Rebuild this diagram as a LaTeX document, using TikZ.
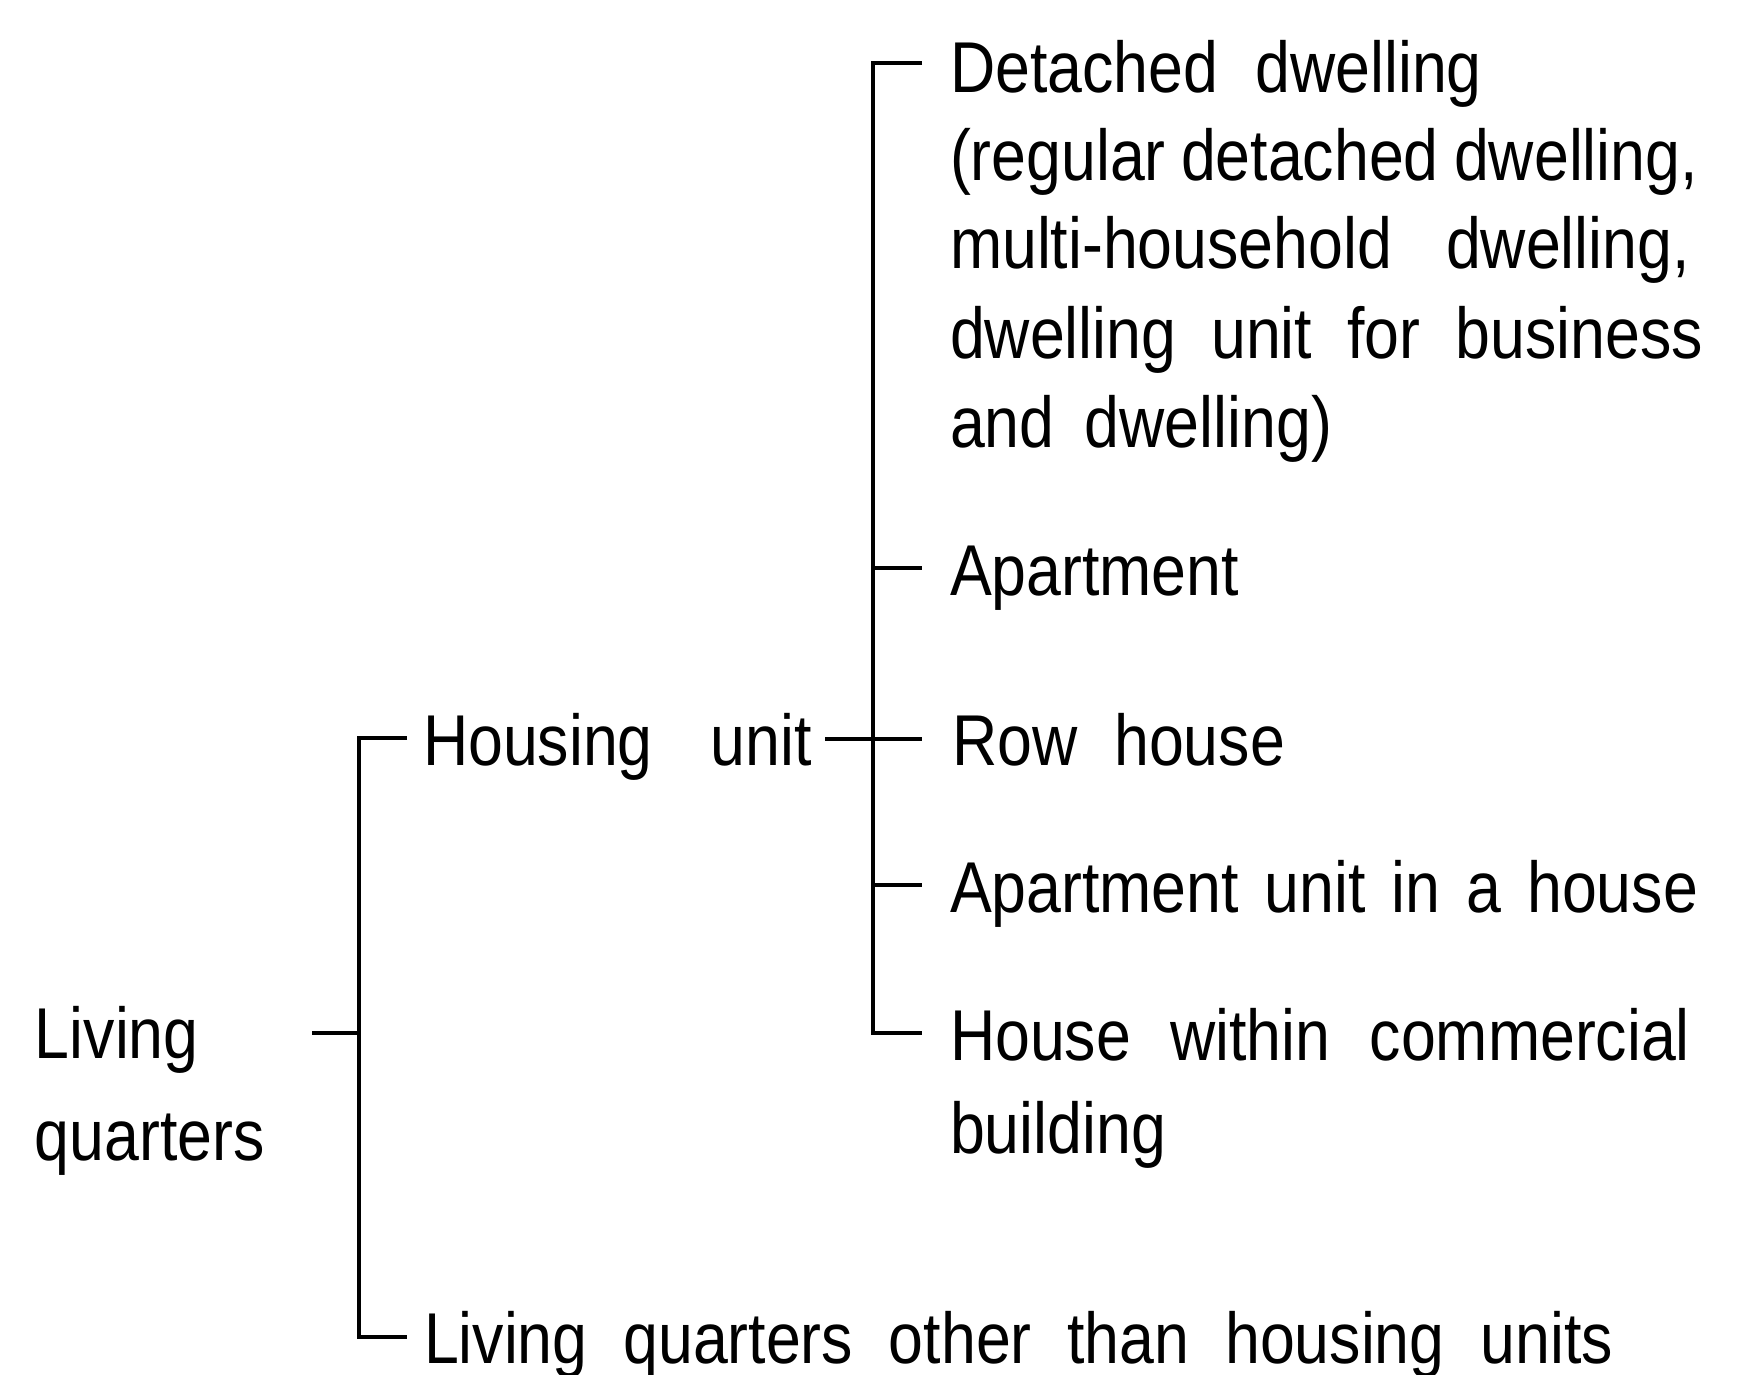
\documentclass[tikz,border=0pt]{standalone}
\usepackage{fontspec}
\setmainfont{Liberation Sans}[FakeStretch=0.87]
\newlength\pxu
\setlength\pxu{0.25pt}
\newcommand\jb[2]{\makebox[#1\pxu][s]{#2}}
\tikzset{
  lbl/.style={anchor=base west, inner sep=0pt, outer sep=0pt, font=\fontsize{18}{22}\selectfont},
  conn/.style={line width=0.8pt, line cap=butt, line join=miter}
}
\begin{document}
\begin{tikzpicture}[x=0.25pt, y=-0.25pt]
\useasboundingbox (0,0) rectangle (1748,1374);
% left column
\node[lbl] (lq1) at (35,1058) {Living};
\node[lbl] (lq2) at (35,1160) {quarters};
% middle
\node[lbl] (hu) at (423,765) {\jb{389}{Housing unit}};
\node[lbl] (oth) at (424,1363) {\jb{1189}{Living quarters other than housing units}};
% right column
\node[lbl] (d1) at (950,92) {\jb{532}{Detached dwelling}};
\node[lbl] (d2) at (950,180) {\jb{748}{(regular detached dwelling,}};
\node[lbl] (d3) at (950,268) {\jb{740}{multi-household dwelling,}};
\node[lbl] (d4) at (950,358) {\jb{753}{dwelling unit for business}};
\node[lbl] (d5) at (950,447) {\jb{382}{and dwelling)}};
\node[lbl] (ap) at (950,595) {Apartment};
\node[lbl] (rh) at (952,765) {\jb{333}{Row house}};
\node[lbl] (au) at (950,912) {\jb{748}{Apartment unit in a house}};
\node[lbl] (hc1) at (950,1060) {\jb{740}{House within commercial}};
\node[lbl] (hc2) at (950,1153) {building};
% bracket 1
\coordinate (lqe) at (312,1033);
\coordinate (b1m) at (359,1033);
\coordinate (b1t) at (359,738);
\coordinate (b1b) at (359,1337);
\coordinate (hut) at (407,738);
\coordinate (otht) at (407,1337);
\draw[conn] (lqe) -- (b1m);
\draw[conn] (hut) -- (b1t) -- (b1b) -- (otht);
% bracket 2
\coordinate (hue) at (825,739);
\coordinate (b2m) at (873,739);
\coordinate (b2t) at (873,63);
\coordinate (b2b) at (873,1033);
\coordinate (dt) at (922,63);
\coordinate (apt) at (922,568);
\coordinate (rht) at (922,739);
\coordinate (aut) at (922,885);
\coordinate (hct) at (922,1033);
\draw[conn] (dt) -- (b2t) -- (b2b) -- (hct);
\draw[conn] (hue) -- (rht);
\draw[conn] (b2m |- apt) -- (apt);
\draw[conn] (b2m |- aut) -- (aut);
\end{tikzpicture}
\end{document}
